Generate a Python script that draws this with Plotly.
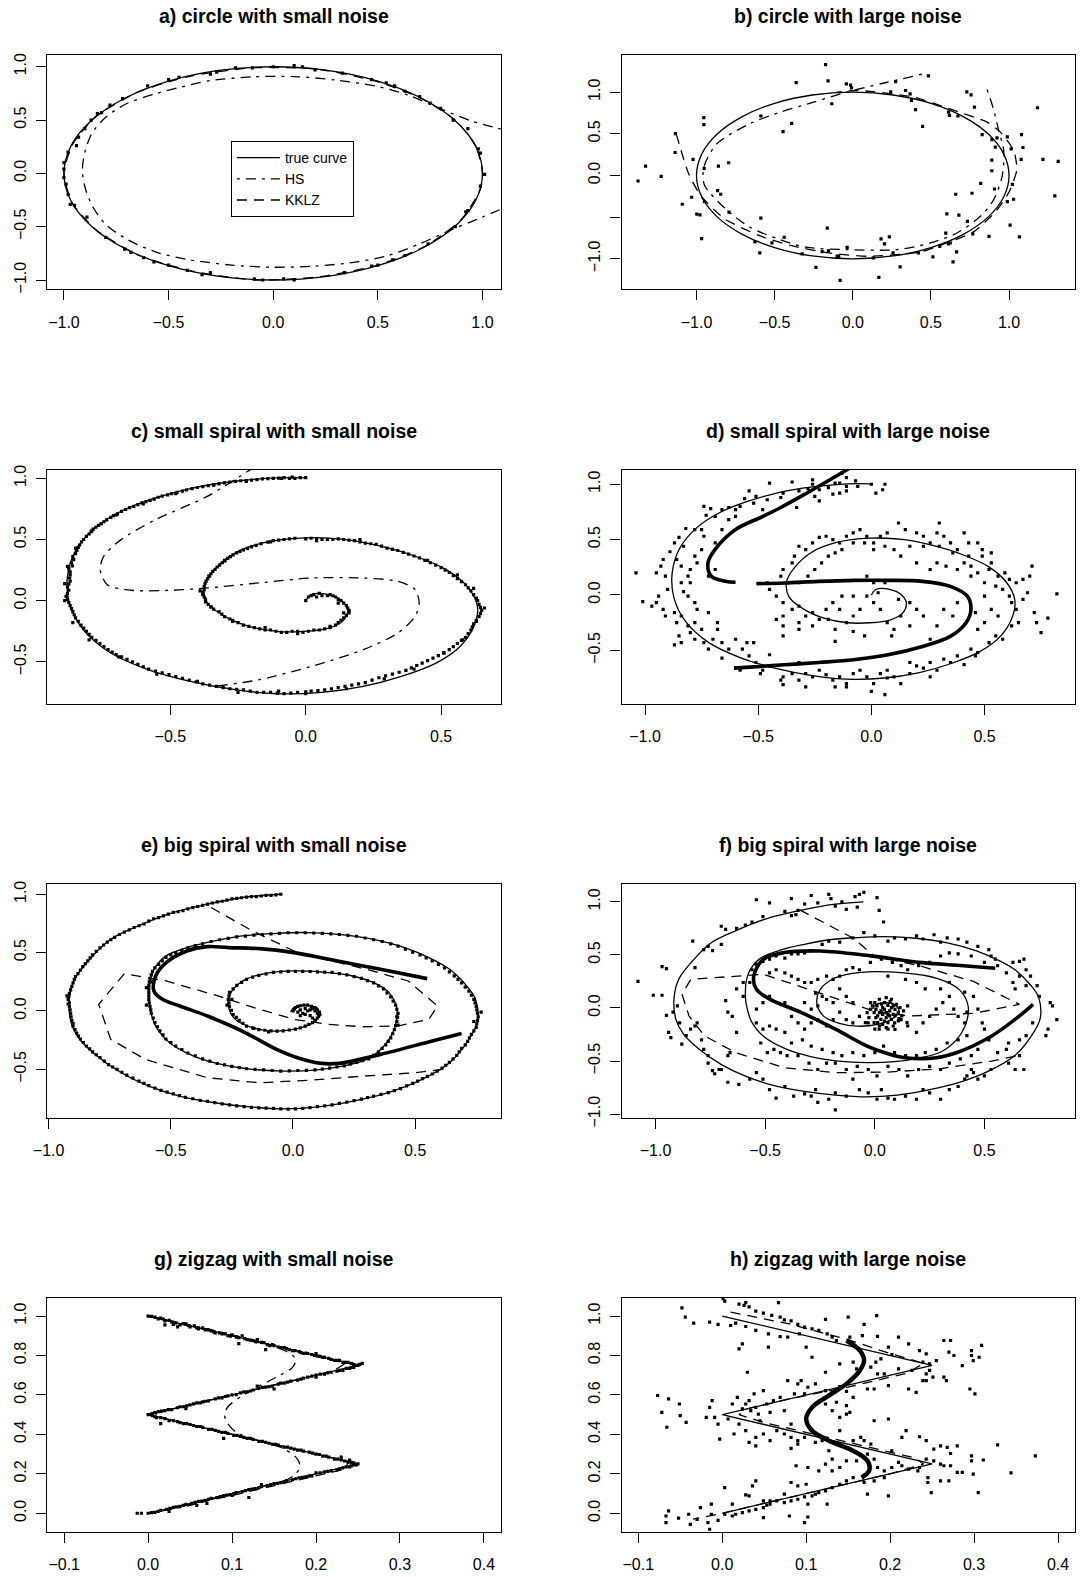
import plotly.graph_objects as go

W, H = 1085, 1577
FONT = "Liberation Sans, Arial, Helvetica, sans-serif"

# ======================= DATA =======================
TITLES = ["a) circle with small noise", "b) circle with large noise",
          "c) small spiral with small noise", "d) small spiral with large noise",
          "e) big spiral with small noise", "f) big spiral with large noise",
          "g) zigzag with small noise", "h) zigzag with large noise"]
LEGEND_NAMES = ["true curve", "HS", "KKLZ"]

X_RANGES = [(-1.079, 1.087), (-1.48, 1.421), (-0.954, 0.72), (-1.104, 0.899),
            (-1.005, 0.85), (-1.155, 0.912), (-0.12, 0.42), (-0.12, 0.42)]
Y_RANGES = [(-1.087, 1.11), (-1.366, 1.446), (-0.843, 1.072), (-0.983, 1.133),
            (-0.915, 1.092), (-1.035, 1.173), (-0.094, 1.094), (-0.094, 1.094)]
X_TICKS = [[-1.0, -0.5, 0.0, 0.5, 1.0], [-1.0, -0.5, 0.0, 0.5, 1.0], [-0.5, 0.0, 0.5],
           [-1.0, -0.5, 0.0, 0.5], [-1.0, -0.5, 0.0, 0.5], [-1.0, -0.5, 0.0, 0.5],
           [-0.1, 0.0, 0.1, 0.2, 0.3, 0.4], [-0.1, 0.0, 0.1, 0.2, 0.3, 0.4]]
Y_TICKS = [[-1.0, -0.5, 0.0, 0.5, 1.0], [-1.0, -0.5, 0.0, 0.5, 1.0], [-0.5, 0.0, 0.5, 1.0],
           [-0.5, 0.0, 0.5, 1.0], [-0.5, 0.0, 0.5, 1.0], [-1.0, -0.5, 0.0, 0.5, 1.0],
           [0.0, 0.2, 0.4, 0.6, 0.8, 1.0], [0.0, 0.2, 0.4, 0.6, 0.8, 1.0]]
Y_UNLABELLED = [[], [-0.5], [], [], [], [], [], []]

CIRCLE = [(1.0, 0.0), (0.966, 0.259), (0.866, 0.5), (0.707, 0.707), (0.5, 0.866), (0.259, 0.966),
          (0.0, 1.0), (-0.259, 0.966), (-0.5, 0.866), (-0.707, 0.707), (-0.866, 0.5), (-0.966, 0.259),
          (-1.0, 0.0), (-0.966, -0.259), (-0.866, -0.5), (-0.707, -0.707), (-0.5, -0.866), (-0.259, -0.966),
          (0.0, -1.0), (0.259, -0.966), (0.5, -0.866), (0.707, -0.707), (0.866, -0.5), (0.966, -0.259), (1.0, 0.0)]

SMALL_SPIRAL = [(0.0, 0.0), (0.02, 0.049), (0.085, 0.049), (0.129, 0.008), (0.155, -0.074), (0.136, -0.169),
                (0.085, -0.224), (-0.005, -0.251), (-0.107, -0.251), (-0.209, -0.21), (-0.299, -0.128),
                (-0.363, -0.019), (-0.375, 0.117), (-0.337, 0.254), (-0.26, 0.39), (-0.158, 0.472),
                (-0.005, 0.513), (0.148, 0.499), (0.276, 0.445), (0.404, 0.363), (0.519, 0.254),
                (0.596, 0.117), (0.634, -0.046), (0.621, -0.21), (0.57, -0.374), (0.481, -0.51),
                (0.353, -0.619), (0.212, -0.701), (0.059, -0.75), (-0.107, -0.761), (-0.26, -0.728),
                (-0.426, -0.66), (-0.58, -0.565), (-0.72, -0.428), (-0.822, -0.237), (-0.873, -0.019),
                (-0.88, 0.199), (-0.848, 0.417), (-0.771, 0.608), (-0.669, 0.745), (-0.554, 0.84),
                (-0.414, 0.922), (-0.26, 0.976), (-0.107, 1.004), (0.0, 1.004)]

BIG_SPIRAL = [(-0.052, 1.0), (-0.208, 0.972), (-0.35, 0.915), (-0.491, 0.843), (-0.633, 0.729), (-0.746, 0.614),
              (-0.831, 0.443), (-0.894, 0.271), (-0.915, 0.1), (-0.908, -0.1), (-0.873, -0.243), (-0.802, -0.386),
              (-0.703, -0.529), (-0.59, -0.643), (-0.463, -0.729), (-0.321, -0.786), (-0.18, -0.821),
              (-0.038, -0.838), (0.103, -0.821), (0.245, -0.772), (0.386, -0.701), (0.528, -0.586),
              (0.641, -0.443), (0.711, -0.272), (0.754, -0.1), (0.747, 0.1), (0.711, 0.214), (0.641, 0.357),
              (0.556, 0.457), (0.457, 0.543), (0.33, 0.614), (0.188, 0.657), (0.047, 0.672), (-0.081, 0.663),
              (-0.208, 0.643), (-0.321, 0.6), (-0.434, 0.543), (-0.519, 0.472), (-0.569, 0.357), (-0.587, 0.243),
              (-0.59, 0.14), (-0.587, 0.043), (-0.562, -0.129), (-0.505, -0.272), (-0.406, -0.386), (-0.293, -0.458),
              (-0.166, -0.5), (-0.038, -0.515), (0.089, -0.506), (0.202, -0.472), (0.301, -0.415), (0.372, -0.3),
              (0.414, -0.157), (0.426, 0.014), (0.393, 0.157), (0.33, 0.243), (0.23, 0.306), (0.117, 0.334),
              (0.004, 0.343), (-0.109, 0.323), (-0.194, 0.271), (-0.25, 0.171), (-0.265, 0.057), (-0.236, -0.072),
              (-0.166, -0.143), (-0.081, -0.172), (0.018, -0.152), (0.082, -0.1), (0.11, -0.037), (0.092, 0.029),
              (0.047, 0.049), (0.004, 0.029), (-0.01, -0.009)]

ZIGZAG = [(0.0, 1.0), (0.25, 0.75), (0.0, 0.5), (0.25, 0.25), (0.0, 0.0)]

HS_A = [(1.09, 0.415), (0.95, 0.49), (0.8, 0.605), (0.65, 0.73), (0.5, 0.815), (0.3, 0.875), (0.1, 0.908),
        (-0.1, 0.905), (-0.3, 0.87), (-0.45, 0.805), (-0.557, 0.75), (-0.7, 0.655), (-0.796, 0.533),
        (-0.865, 0.38), (-0.9, 0.2), (-0.912, 0.02), (-0.895, -0.16), (-0.86, -0.32), (-0.8, -0.48),
        (-0.7, -0.617), (-0.557, -0.74), (-0.4, -0.81), (-0.2, -0.86), (0.0, -0.88), (0.2, -0.87),
        (0.4, -0.83), (0.55, -0.77), (0.7, -0.66), (0.85, -0.53), (0.95, -0.45), (1.09, -0.335)]
KKLZ_A = [(1.0, 0.0), (0.97, 0.25), (0.87, 0.5), (0.7, 0.71), (0.48, 0.87), (0.2, 0.98), (-0.1, 0.99),
          (-0.4, 0.91), (-0.65, 0.76), (-0.85, 0.53), (-0.96, 0.27), (-1.0, 0.0), (-0.96, -0.28),
          (-0.84, -0.54), (-0.64, -0.77), (-0.38, -0.92), (-0.08, -1.0), (0.22, -0.97), (0.5, -0.86),
          (0.73, -0.68), (0.9, -0.43), (0.99, -0.15), (1.0, 0.0)]
PTS_A = [(0.10, 1.01), (0.14, 1.0), (0.2, 0.97), (0.47, 0.88), (0.54, 0.85), (0.58, 0.82), (0.70, 0.72),
         (0.75, 0.66), (0.8, 0.61), (0.86, 0.5), (0.93, 0.42), (0.98, 0.23), (0.99, 0.19), (1.01, -0.01),
         (0.99, -0.12), (0.93, -0.35), (0.92, -0.36), (0.87, -0.5), (0.74, -0.66), (0.63, -0.77),
         (0.57, -0.81), (0.5, -0.86), (0.47, -0.87), (0.34, -0.93), (0.1, -1.0), (0.05, -0.99),
         (-0.05, -1.0), (-0.09, -0.99), (-0.3, -0.93), (-0.34, -0.95), (-0.41, -0.91), (-0.5, -0.86),
         (-0.57, -0.83), (-0.62, -0.79), (-0.68, -0.74), (-0.71, -0.71), (-0.8, -0.6), (-0.89, -0.41),
         (-0.95, -0.3), (-0.97, -0.29), (-0.98, -0.2), (-0.99, -0.1), (-1.0, -0.04), (-1.0, 0.04),
         (-1.0, 0.1), (-0.98, 0.2), (-0.94, 0.26), (-0.93, 0.34), (-0.9, 0.42), (-0.87, 0.5), (-0.84, 0.56),
         (-0.82, 0.57), (-0.78, 0.64), (-0.72, 0.7), (-0.6, 0.82), (-0.5, 0.88), (-0.45, 0.9), (-0.3, 0.93),
         (-0.27, 0.95), (-0.18, 0.99), (-0.1, 0.99), (0.0, 1.0), (0.33, 0.94), (0.63, 0.77)]

HS_B = [(0.86, 1.03), (0.90, 0.80), (0.934, 0.54), (0.966, 0.30), (0.956, -0.01), (0.902, -0.29),
        (0.817, -0.49), (0.667, -0.69), (0.496, -0.81), (0.283, -0.89), (-0.04, -0.89), (-0.3, -0.86),
        (-0.465, -0.77), (-0.66, -0.62), (-0.82, -0.39), (-0.95, -0.11), (-0.953, 0.1), (-0.87, 0.38),
        (-0.66, 0.62), (-0.465, 0.76), (-0.25, 0.88), (-0.04, 1.0), (0.2, 1.11), (0.454, 1.22)]
KKLZ_B = [(-1.13, 0.50), (-1.05, 0.02), (-0.97, -0.25), (-0.82, -0.52), (-0.6, -0.72), (-0.4, -0.84),
          (-0.15, -0.93), (0.1, -0.97), (0.43, -0.92), (0.6, -0.81), (0.77, -0.68), (0.92, -0.42),
          (1.0, -0.2), (1.05, 0.07), (1.03, 0.3), (0.945, 0.52), (0.86, 0.64), (0.65, 0.78), (0.39, 0.94),
          (0.03, 1.02), (-0.1, 1.0)]
PTS_B = [(-0.174, 1.33), (-0.158, 1.135), (-0.362, 1.115), (-0.041, 1.10), (-0.014, 1.084), (-0.008, 1.052),
         (0.484, 1.195), (0.274, 1.127), (0.243, 1.004), (0.338, 1.02), (0.367, 0.98), (0.376, 0.90),
         (0.402, 0.79), (-0.134, 0.861), (-0.953, 0.694), (-0.953, 0.61), (-0.588, 0.714), (-0.391, 0.626),
         (-0.446, 0.527), (0.447, 0.59), (0.73, 1.004), (0.757, 0.968), (0.613, 0.761), (0.619, 0.722),
         (0.673, 0.714), (0.779, 0.821), (1.182, 0.813), (-1.135, 0.503), (-1.137, 0.276), (-1.326, 0.113),
         (-1.226, -0.010), (-1.374, -0.066), (-1.022, 0.193), (-0.86, 0.113), (-0.951, 0.085), (-0.794, 0.153),
         (0.828, 0.491), (0.89, 0.431), (0.923, 0.451), (0.989, 0.463), (1.08, 0.491), (1.014, 0.32),
         (1.089, 0.336), (0.912, 0.34), (0.89, 0.185), (0.89, 0.057), (1.078, 0.193), (1.217, 0.193),
         (1.315, 0.169), (0.819, -0.094), (0.907, -0.162), (1.022, -0.106), (0.659, -0.225), (0.763, -0.213),
         (1.293, -0.245), (1.029, -0.285), (0.989, -0.313), (-0.865, -0.182), (-0.845, -0.225),
         (-1.031, -0.261), (-1.091, -0.345), (-0.949, -0.313), (-0.998, -0.464), (-0.978, -0.472),
         (-0.792, -0.44), (-0.588, -0.512), (-0.163, -0.631), (0.602, -0.46), (0.679, -0.476),
         (0.734, -0.551), (1.007, -0.595), (1.067, -0.738), (0.872, -0.73), (0.768, -0.702), (0.595, -0.691),
         (-0.967, -0.758), (-0.626, -0.798), (-0.595, -0.929), (-0.517, -0.81), (-0.439, -0.742),
         (-0.324, -0.941), (-0.196, -0.913), (-0.156, -0.905), (-0.10, -0.969), (-0.036, -0.862),
         (0.181, -0.762), (0.234, -0.738), (0.203, -0.822), (0.613, -0.822), (0.624, -0.81), (0.664, -0.917),
         (0.557, -0.85), (0.513, -0.977), (0.642, -1.037), (-0.236, -1.104), (-0.081, -1.26), (0.167, -1.224),
         (0.303, -1.096), (0.132, -0.989), (0.258, -0.929), (0.42, -0.929), (-0.09, -0.97)]

HS_C = [(-0.16, 1.13), (-0.203, 1.072), (-0.362, 0.854), (-0.554, 0.663), (-0.682, 0.499), (-0.746, 0.363),
        (-0.759, 0.254), (-0.733, 0.131), (-0.644, 0.085), (-0.49, 0.085), (-0.362, 0.104), (-0.171, 0.145),
        (0.021, 0.185), (0.212, 0.185), (0.34, 0.158), (0.404, 0.09), (0.419, -0.019), (0.404, -0.128),
        (0.34, -0.265), (0.212, -0.401), (0.021, -0.537), (-0.171, -0.646), (-0.337, -0.701)]
PTS_C = [(0.0, 0.0), (0.01, 0.03), (0.03, 0.05), (0.06, 0.04), (0.09, 0.05), (0.11, 0.03), (0.13, 0.0),
         (0.15, -0.04), (0.16, -0.08), (0.15, -0.12), (0.13, -0.16), (0.11, -0.2), (0.07, -0.23), (0.03, -0.24),
         (-0.01, -0.26), (-0.05, -0.25), (-0.09, -0.26), (-0.13, -0.24), (-0.17, -0.23), (-0.21, -0.21),
         (-0.25, -0.18), (-0.28, -0.15), (-0.31, -0.11), (-0.34, -0.07), (-0.36, -0.03), (-0.37, 0.01),
         (-0.38, 0.05), (-0.375, 0.09), (-0.372, 0.14), (-0.362, 0.18), (-0.35, 0.22), (-0.335, 0.255),
         (-0.318, 0.29), (-0.298, 0.325), (-0.278, 0.36), (-0.255, 0.39), (-0.23, 0.415), (-0.2, 0.44),
         (-0.165, 0.465), (-0.12, 0.49), (-0.08, 0.5), (-0.04, 0.51),
         (0.02, 0.51), (0.06, 0.5), (0.1, 0.5), (0.14, 0.5), (0.18, 0.49), (0.22, 0.47), (0.26, 0.46),
         (0.3, 0.43), (0.34, 0.41), (0.38, 0.38), (0.42, 0.35), (0.46, 0.31), (0.5, 0.27), (0.53, 0.23),
         (0.56, 0.18), (0.59, 0.13), (0.61, 0.08), (0.63, 0.02), (0.64, -0.03), (0.65, -0.08), (0.64, -0.13),
         (0.62, -0.19), (0.61, -0.24), (0.59, -0.3), (0.56, -0.35), (0.53, -0.4), (0.49, -0.45), (0.45, -0.49),
         (0.41, -0.53), (0.37, -0.57), (0.32, -0.6), (0.27, -0.63), (0.22, -0.67), (0.17, -0.69), (0.12, -0.71),
         (0.07, -0.73), (0.02, -0.74), (-0.03, -0.75), (-0.08, -0.76), (-0.13, -0.75), (-0.18, -0.75),
         (-0.23, -0.73), (-0.28, -0.72), (-0.33, -0.7), (-0.38, -0.68), (-0.43, -0.65), (-0.48, -0.62),
         (-0.53, -0.59), (-0.58, -0.56), (-0.62, -0.52), (-0.66, -0.48), (-0.7, -0.44), (-0.73, -0.4),
         (-0.76, -0.35), (-0.79, -0.3), (-0.81, -0.25), (-0.83, -0.2), (-0.85, -0.14), (-0.86, -0.09),
         (-0.87, -0.04), (-0.88, 0.01), (-0.88, 0.06), (-0.88, 0.11), (-0.87, 0.16),
         (-0.87, 0.21), (-0.875, 0.26), (-0.865, 0.31), (-0.86, 0.36), (-0.845, 0.41), (-0.835, 0.455),
         (-0.82, 0.5), (-0.8, 0.545), (-0.785, 0.585), (-0.765, 0.615), (-0.745, 0.645), (-0.72, 0.68),
         (-0.695, 0.71), (-0.665, 0.745), (-0.635, 0.77), (-0.605, 0.8), (-0.575, 0.82), (-0.545, 0.845),
         (-0.51, 0.865), (-0.475, 0.885), (-0.44, 0.905), (-0.4, 0.925), (-0.36, 0.94), (-0.32, 0.955),
         (-0.28, 0.97), (-0.24, 0.98), (-0.2, 0.985), (-0.16, 0.995), (-0.12, 1.0), (-0.08, 1.005),
         (-0.04, 1.0), (0.0, 1.005),
         (0.04, 0.03), (0.12, -0.02), (0.14, -0.1), (0.09, -0.21), (-0.03, -0.27), (-0.15, -0.22), (-0.27, -0.17),
         (-0.35, -0.05), (-0.39, 0.08), (-0.355, 0.2), (-0.3, 0.33), (-0.13, 0.48), (0.04, 0.49), (0.2, 0.5),
         (0.32, 0.42), (0.45, 0.33), (0.56, 0.21), (0.62, 0.1), (0.66, -0.06), (0.63, -0.17), (0.58, -0.32),
         (0.51, -0.43), (0.4, -0.56), (0.29, -0.64), (0.15, -0.72), (0.0, -0.76), (-0.1, -0.74), (-0.25, -0.75),
         (-0.4, -0.66), (-0.55, -0.6), (-0.69, -0.46), (-0.8, -0.32), (-0.86, -0.18), (-0.89, 0.0),
         (-0.89, 0.14), (-0.88, 0.28), (-0.85, 0.43), (-0.79, 0.57), (-0.7, 0.7), (-0.6, 0.79), (-0.48, 0.875),
         (-0.34, 0.945), (-0.22, 0.975), (-0.09, 1.0), (-0.05, 1.01)]
PTS_C_MORE = [(0.02, 0.04), (0.05, 0.06), (0.08, 0.04), (0.1, 0.04), (0.12, 0.01), (0.14, -0.02), (0.155, -0.06),
              (0.16, -0.1), (0.14, -0.14), (0.12, -0.18), (0.09, -0.22), (0.05, -0.24), (0.01, -0.25),
              (-0.03, -0.25), (-0.07, -0.26), (-0.11, -0.25), (-0.15, -0.24), (-0.19, -0.22), (-0.23, -0.2),
              (-0.27, -0.16), (-0.3, -0.13), (-0.32, -0.09), (-0.35, -0.05), (-0.37, -0.01), (-0.375, 0.03),
              (-0.38, 0.07), (-0.375, 0.115), (-0.368, 0.16), (-0.358, 0.2), (-0.343, 0.24), (-0.327, 0.275),
              (-0.308, 0.31), (-0.288, 0.345), (-0.268, 0.375), (-0.243, 0.402), (-0.215, 0.428),
              (-0.183, 0.452), (-0.14, 0.478), (-0.1, 0.495), (-0.06, 0.505),
              (0.0, 0.505), (0.04, 0.505), (0.08, 0.5), (0.12, 0.505), (0.16, 0.495), (0.2, 0.48),
              (0.24, 0.465), (0.28, 0.445), (0.32, 0.42), (0.36, 0.395), (0.4, 0.365), (0.44, 0.33), (0.48, 0.29),
              (0.515, 0.25), (0.545, 0.205), (0.575, 0.155), (0.6, 0.105), (0.62, 0.05), (0.635, 0.0),
              (0.645, -0.055), (0.645, -0.105), (0.63, -0.16), (0.615, -0.215), (0.6, -0.27), (0.575, -0.325),
              (0.545, -0.375), (0.51, -0.425), (0.47, -0.47), (0.43, -0.51), (0.39, -0.55), (0.345, -0.585),
              (0.295, -0.615), (0.245, -0.65), (0.195, -0.68), (0.145, -0.7), (0.095, -0.72), (0.045, -0.735),
              (0.0, -0.745), (-0.055, -0.755), (-0.105, -0.755), (-0.155, -0.75), (-0.205, -0.74),
              (-0.255, -0.725), (-0.305, -0.71), (-0.355, -0.69), (-0.405, -0.665), (-0.455, -0.635),
              (-0.505, -0.605), (-0.555, -0.575), (-0.6, -0.54), (-0.64, -0.5), (-0.68, -0.46), (-0.715, -0.42),
              (-0.745, -0.375), (-0.775, -0.325), (-0.8, -0.275), (-0.82, -0.225), (-0.84, -0.17),
              (-0.855, -0.115), (-0.865, -0.065), (-0.875, -0.015), (-0.885, 0.035), (-0.875, 0.085),
              (-0.875, 0.135), (-0.872, 0.185), (-0.87, 0.235), (-0.862, 0.285), (-0.857, 0.335),
              (-0.85, 0.385), (-0.84, 0.435), (-0.828, 0.48), (-0.81, 0.525), (-0.792, 0.565), (-0.775, 0.6),
              (-0.755, 0.63), (-0.735, 0.66), (-0.71, 0.695), (-0.68, 0.73), (-0.65, 0.76), (-0.62, 0.785),
              (-0.59, 0.81), (-0.56, 0.83), (-0.53, 0.855), (-0.495, 0.875), (-0.455, 0.895), (-0.42, 0.915),
              (-0.38, 0.932), (-0.34, 0.948), (-0.3, 0.962), (-0.26, 0.975), (-0.22, 0.982), (-0.18, 0.99),
              (-0.14, 0.997), (-0.1, 1.002), (-0.06, 1.0), (-0.02, 1.005)]

HS_D = [(-0.10, 1.14), (-0.2, 1.02), (-0.309, 0.892), (-0.4, 0.79), (-0.477, 0.711), (-0.6, 0.591),
        (-0.691, 0.41), (-0.722, 0.289), (-0.707, 0.169), (-0.645, 0.124), (-0.6, 0.115), (None, None),
        (-0.508, 0.102), (-0.385, 0.108), (-0.232, 0.123), (-0.079, 0.132), (0.074, 0.132), (0.226, 0.123),
        (0.349, 0.078), (0.425, -0.013), (0.44, -0.133), (0.418, -0.254), (0.349, -0.374), (0.226, -0.465),
        (0.074, -0.54), (-0.079, -0.585), (-0.232, -0.61), (-0.385, -0.631), (-0.538, -0.652), (-0.607, -0.661)]
PTS_D = [(-0.45, 1.01), (-0.35, 1.02), (-0.26, 1.04), (-0.28, 0.96), (-0.23, 0.95), (-0.19, 0.97), (-0.16, 1.01),
         (-0.11, 1.06), (-0.07, 1.03), (-0.11, 0.98), (-0.11, 0.94), (-0.14, 0.92), (-0.23, 0.85), (-0.25, 0.89),
         (-0.32, 0.94), (-0.33, 0.79), (-0.39, 0.92), (-0.40, 0.88), (-0.46, 0.86), (-0.51, 0.89), (-0.54, 0.94),
         (-0.56, 0.87), (-0.58, 0.80), (-0.60, 0.77), (-0.63, 0.79), (-0.66, 0.77), (-0.71, 0.78), (-0.74, 0.80),
         (-0.73, 0.72), (-0.69, 0.71), (-0.60, 0.71), (-0.63, 0.68), (-0.52, 0.83), (-0.48, 0.77), (-0.51, 0.68),
         (0.06, 1.0), (0.05, 0.95), (0.02, 0.92), (0.0, 1.0), (-0.06, 0.98), (-0.17, 0.91), (-0.13, 1.10),
         (-0.14, 1.01), (-0.26, 1.0),
         (-0.82, 0.60), (-0.78, 0.59), (-0.85, 0.52), (-0.83, 0.44), (-0.87, 0.47), (-0.89, 0.39), (-0.92, 0.32),
         (-0.93, 0.26), (-0.95, 0.20), (-0.91, 0.17), (-0.90, 0.05), (-0.94, -0.01), (-0.95, -0.07),
         (-0.97, -0.10), (-1.01, -0.06), (-1.04, 0.20), (-0.92, -0.13), (-0.91, -0.19), (-0.87, -0.16),
         (-0.86, -0.25), (-0.84, -0.19), (-0.81, -0.28), (-0.80, -0.34), (-0.78, -0.40), (-0.75, -0.31),
         (-0.74, -0.43), (-0.72, -0.49), (-0.87, -0.45), (-0.84, -0.43), (-0.85, -0.37), (-0.78, -0.25),
         (-0.77, -0.13), (-0.78, -0.07), (-0.81, -0.01), (-0.83, 0.03), (-0.84, 0.11), (-0.81, 0.17),
         (-0.80, 0.23), (-0.77, 0.29), (-0.78, 0.35), (-0.75, 0.41), (-0.80, 0.11), (-0.84, 0.26), (-0.86, 0.32),
         (-0.72, 0.17), (-0.69, 0.23), (-0.74, 0.53), (-0.75, 0.59), (-0.69, 0.47), (-0.66, 0.59), (-0.72, -0.16),
         (-0.68, -0.25), (-0.68, -0.31), (-0.70, -0.40), (-0.66, -0.43), (-0.63, -0.49),
         (-0.60, -0.40), (-0.57, -0.49), (-0.54, -0.55), (-0.51, -0.61), (-0.48, -0.68), (-0.45, -0.64),
         (-0.40, -0.77), (-0.39, -0.74), (-0.35, -0.71), (-0.32, -0.77), (-0.29, -0.71), (-0.26, -0.74),
         (-0.23, -0.68), (-0.20, -0.72), (-0.17, -0.77), (-0.14, -0.74), (-0.11, -0.80), (-0.08, -0.71),
         (-0.05, -0.68), (-0.02, -0.74), (0.01, -0.80), (0.04, -0.71), (0.07, -0.68), (0.10, -0.74),
         (0.13, -0.80), (0.17, -0.71), (0.20, -0.64), (0.23, -0.66), (0.26, -0.61), (0.29, -0.68), (0.32, -0.58),
         (0.35, -0.61), (0.38, -0.55), (0.41, -0.63), (0.44, -0.49), (0.47, -0.52), (0.52, -0.43), (0.55, -0.37),
         (0.58, -0.40), (0.46, -0.55), (0.0, -0.87), (0.06, -0.90), (-0.16, -0.83), (-0.11, -0.83),
         (-0.29, -0.83), (-0.39, -0.81), (-0.32, -0.61), (-0.22, -0.61), (-0.45, -0.54), (-0.52, -0.43),
         (-0.55, -0.43), (-0.66, -0.57), (-0.58, -0.68), (-0.49, -0.71), (0.26, -0.74), (0.07, -0.75),
         (0.17, -0.61),
         (0.41, 0.56), (0.47, 0.47), (0.49, 0.35), (0.53, 0.29), (0.52, 0.23), (0.56, 0.17), (0.59, 0.20),
         (0.61, 0.14), (0.64, 0.11), (0.67, 0.14), (0.70, 0.17), (0.71, 0.26), (0.58, 0.05), (0.61, -0.01),
         (0.62, -0.07), (0.64, -0.13), (0.67, -0.04), (0.69, 0.02), (0.72, -0.16), (0.73, -0.25), (0.75, -0.34),
         (0.78, -0.21), (0.82, 0.01), (0.65, -0.25), (0.62, -0.28), (0.56, -0.19), (0.53, -0.13), (0.50, -0.25),
         (0.47, -0.31), (0.46, -0.16), (0.50, -0.01), (0.55, 0.08), (0.50, 0.11), (0.47, 0.20), (0.44, 0.26),
         (0.43, 0.35), (0.38, 0.41), (0.35, 0.47), (0.32, 0.53), (0.29, 0.56), (0.26, 0.47), (0.23, 0.53),
         (0.20, 0.56), (0.15, 0.59), (0.12, 0.65), (0.07, 0.56), (0.04, 0.53), (0.01, 0.47), (-0.02, 0.53),
         (-0.05, 0.59), (-0.08, 0.56), (-0.11, 0.53), (-0.14, 0.47), (-0.17, 0.50), (-0.20, 0.53), (-0.23, 0.52),
         (-0.26, 0.47), (-0.29, 0.41), (-0.32, 0.44), (-0.34, 0.35), (-0.35, 0.29), (-0.39, 0.23), (-0.40, 0.17),
         (-0.37, 0.11), (-0.32, 0.11), (-0.28, 0.17), (-0.25, 0.23), (-0.22, 0.29), (-0.19, 0.35), (-0.16, 0.38),
         (-0.13, 0.41), (-0.08, 0.47), (-0.03, 0.47), (0.01, 0.41), (0.06, 0.44), (0.10, 0.41), (0.17, 0.44),
         (0.23, 0.44), (0.30, 0.44), (0.36, 0.38), (0.41, 0.29), (0.44, 0.17), (0.38, 0.23), (0.33, 0.26),
         (0.29, 0.29), (0.26, 0.23), (0.20, 0.29), (0.13, 0.35), (0.30, 0.65), (0.43, 0.47), (0.49, 0.41),
         (0.53, 0.38),
         (-0.46, 0.11), (-0.45, 0.05), (-0.42, -0.01), (-0.39, -0.07), (-0.35, -0.13), (-0.32, -0.10),
         (-0.29, -0.19), (-0.26, -0.16), (-0.23, -0.22), (-0.20, -0.13), (-0.17, -0.07), (-0.14, -0.13),
         (-0.11, -0.25), (-0.08, -0.19), (-0.05, -0.13), (-0.02, -0.01), (0.01, -0.07), (0.03, 0.02),
         (0.04, -0.13), (0.07, -0.25), (0.10, -0.31), (0.13, -0.19), (0.17, -0.07), (0.20, -0.13), (0.23, -0.19),
         (0.29, -0.28), (0.32, -0.13), (0.36, -0.19), (0.38, -0.07), (0.12, -0.04), (0.06, 0.11), (0.01, 0.11),
         (-0.02, 0.17), (-0.08, -0.01), (-0.13, -0.01), (-0.19, -0.22), (-0.26, -0.28), (-0.32, -0.25),
         (-0.39, -0.19), (-0.42, -0.22), (-0.39, -0.28), (-0.32, -0.31), (-0.16, -0.31), (-0.08, -0.33),
         (-0.03, -0.37), (-0.16, -0.42), (0.09, -0.37), (0.17, -0.28), (0.26, -0.40), (-0.39, -0.37)]

HS_E = [(0.549, 0.277), (0.358, 0.357), (0.146, 0.443), (0.004, 0.5), (-0.137, 0.534), (-0.265, 0.543),
        (-0.35, 0.551), (-0.434, 0.514), (-0.519, 0.414), (-0.562, 0.3), (-0.569, 0.171), (-0.534, 0.1),
        (-0.463, 0.043), (-0.35, -0.043), (-0.208, -0.172), (-0.067, -0.329), (0.018, -0.4), (0.117, -0.449),
        (0.188, -0.449), (0.358, -0.372), (0.57, -0.257), (0.69, -0.192)]
KKLZ_E = [(-0.335, 0.886), (-0.166, 0.686), (0.004, 0.514), (0.131, 0.443), (0.301, 0.357), (0.471, 0.257),
          (0.591, 0.043), (0.556, -0.072), (0.428, -0.129), (0.287, -0.135), (0.146, -0.115), (0.004, -0.072),
          (-0.137, 0.014), (-0.307, 0.129), (-0.519, 0.257), (-0.69, 0.32), (-0.795, 0.057), (-0.746, -0.243),
          (-0.604, -0.415), (-0.35, -0.572), (-0.137, -0.615), (0.075, -0.592), (0.287, -0.558),
          (0.499, -0.529), (0.613, -0.5)]
PTS_E = [(-0.05, 1.0), (-0.09, 0.99), (-0.13, 0.985), (-0.17, 0.98), (-0.21, 0.97), (-0.25, 0.96), (-0.29, 0.94),
         (-0.33, 0.925), (-0.37, 0.905), (-0.41, 0.885), (-0.45, 0.86), (-0.49, 0.845), (-0.53, 0.815),
         (-0.57, 0.79), (-0.61, 0.745), (-0.65, 0.715), (-0.69, 0.675), (-0.73, 0.63), (-0.76, 0.59),
         (-0.79, 0.54), (-0.82, 0.48), (-0.84, 0.43), (-0.86, 0.38), (-0.88, 0.32), (-0.895, 0.27),
         (-0.905, 0.21), (-0.915, 0.15), (-0.92, 0.1), (-0.915, 0.04), (-0.91, -0.02), (-0.905, -0.08),
         (-0.9, -0.13), (-0.885, -0.19), (-0.87, -0.24), (-0.845, -0.3), (-0.82, -0.35), (-0.79, -0.4),
         (-0.755, -0.46), (-0.72, -0.5), (-0.68, -0.55), (-0.63, -0.6), (-0.59, -0.64), (-0.54, -0.68),
         (-0.49, -0.71), (-0.44, -0.74), (-0.38, -0.765), (-0.32, -0.785), (-0.26, -0.805), (-0.2, -0.82),
         (-0.14, -0.83), (-0.08, -0.835), (-0.02, -0.84), (0.04, -0.835), (0.1, -0.82), (0.16, -0.805),
         (0.22, -0.78), (0.28, -0.755), (0.33, -0.73), (0.39, -0.7), (0.44, -0.665), (0.49, -0.62),
         (0.53, -0.58), (0.57, -0.54), (0.61, -0.49), (0.64, -0.44), (0.67, -0.38), (0.69, -0.32),
         (0.715, -0.26), (0.73, -0.2), (0.75, -0.14), (0.755, -0.08), (0.755, -0.02), (0.75, 0.04),
         (0.74, 0.1), (0.72, 0.17), (0.69, 0.24), (0.66, 0.3), (0.62, 0.37), (0.57, 0.43), (0.52, 0.48),
         (0.46, 0.53), (0.4, 0.575), (0.33, 0.61), (0.26, 0.64), (0.19, 0.655), (0.12, 0.665), (0.05, 0.67),
         (-0.02, 0.67), (-0.09, 0.66), (-0.16, 0.65), (-0.23, 0.635), (-0.3, 0.61), (-0.37, 0.575),
         (-0.43, 0.54), (-0.48, 0.5), (-0.52, 0.46), (-0.55, 0.4), (-0.575, 0.34), (-0.585, 0.28),
         (-0.59, 0.22), (-0.59, 0.16), (-0.59, 0.1), (-0.585, 0.04), (-0.58, -0.02), (-0.565, -0.1),
         (-0.545, -0.17), (-0.52, -0.24), (-0.48, -0.3), (-0.43, -0.36), (-0.37, -0.41), (-0.31, -0.45),
         (-0.25, -0.475), (-0.19, -0.495), (-0.12, -0.505), (-0.05, -0.515), (0.02, -0.51), (0.09, -0.505),
         (0.15, -0.49), (0.21, -0.47), (0.26, -0.44), (0.31, -0.41), (0.35, -0.35), (0.38, -0.29),
         (0.4, -0.23), (0.415, -0.16), (0.425, -0.09), (0.43, -0.02), (0.42, 0.05), (0.4, 0.12), (0.37, 0.19),
         (0.33, 0.24), (0.28, 0.28), (0.22, 0.31), (0.16, 0.33), (0.1, 0.335), (0.04, 0.34), (-0.02, 0.34),
         (-0.08, 0.33), (-0.14, 0.305), (-0.19, 0.27), (-0.23, 0.22), (-0.26, 0.16), (-0.265, 0.1),
         (-0.26, 0.04), (-0.245, -0.03), (-0.22, -0.08), (-0.19, -0.13), (-0.14, -0.16), (-0.09, -0.17),
         (-0.04, -0.17), (0.01, -0.155), (0.05, -0.13), (0.08, -0.1), (0.1, -0.06), (0.11, -0.03), (0.1, 0.01),
         (0.09, 0.03), (0.06, 0.05), (0.03, 0.045), (0.01, 0.03), (0.0, 0.0), (0.04, -0.02), (0.07, -0.04),
         (0.06, 0.0), (0.03, 0.01), (0.08, 0.02), (0.1, -0.02), (-0.92, 0.06), (-0.925, 0.13), (-0.6, 0.05),
         (-0.6, 0.2), (-0.58, 0.25), (0.43, -0.12), (0.425, -0.05), (0.77, -0.01), (0.74, -0.09),
         (-0.25, 0.1), (-0.27, 0.05), (-0.1, -0.18), (-0.16, -0.15), (0.09, -0.08)]
PTS_E_MORE = [(-0.07, 0.995), (-0.11, 0.99), (-0.15, 0.98), (-0.19, 0.975), (-0.23, 0.965), (-0.27, 0.95),
              (-0.31, 0.935), (-0.35, 0.915), (-0.39, 0.895), (-0.43, 0.875), (-0.47, 0.85), (-0.51, 0.83),
              (-0.55, 0.8), (-0.59, 0.77), (-0.63, 0.73), (-0.67, 0.695), (-0.71, 0.655), (-0.745, 0.61),
              (-0.775, 0.565), (-0.805, 0.51), (-0.83, 0.455), (-0.85, 0.405), (-0.87, 0.35), (-0.89, 0.295),
              (-0.9, 0.24), (-0.91, 0.18), (-0.918, 0.125), (-0.915, 0.07), (-0.912, 0.01), (-0.908, -0.05),
              (-0.9, -0.105), (-0.892, -0.16), (-0.878, -0.215), (-0.858, -0.27), (-0.832, -0.325),
              (-0.805, -0.375), (-0.772, -0.43), (-0.738, -0.48), (-0.7, -0.525), (-0.655, -0.575),
              (-0.61, -0.62), (-0.565, -0.66), (-0.515, -0.695), (-0.465, -0.725), (-0.41, -0.752),
              (-0.35, -0.775), (-0.29, -0.795), (-0.23, -0.812), (-0.17, -0.825), (-0.11, -0.832),
              (-0.05, -0.838), (0.01, -0.838), (0.07, -0.828), (0.13, -0.812), (0.19, -0.792), (0.25, -0.768),
              (0.305, -0.742), (0.36, -0.715), (0.415, -0.682), (0.465, -0.642), (0.51, -0.6), (0.55, -0.56),
              (0.59, -0.515), (0.625, -0.465), (0.655, -0.41), (0.68, -0.35), (0.705, -0.29), (0.722, -0.23),
              (0.74, -0.17), (0.752, -0.11), (0.758, -0.05), (0.752, 0.01), (0.745, 0.07), (0.73, 0.135),
              (0.705, 0.205), (0.675, 0.27), (0.64, 0.335), (0.595, 0.4), (0.545, 0.455), (0.49, 0.505),
              (0.43, 0.555), (0.365, 0.595), (0.295, 0.625), (0.225, 0.648), (0.155, 0.66), (0.085, 0.668),
              (0.015, 0.67), (-0.055, 0.665), (-0.125, 0.655), (-0.195, 0.642), (-0.265, 0.622), (-0.335, 0.595),
              (-0.4, 0.56), (-0.455, 0.52), (-0.5, 0.48), (-0.535, 0.43), (-0.565, 0.37), (-0.58, 0.31),
              (-0.588, 0.25), (-0.59, 0.19), (-0.59, 0.13), (-0.588, 0.07), (-0.582, 0.01), (-0.572, -0.06),
              (-0.555, -0.135), (-0.532, -0.205), (-0.5, -0.27), (-0.455, -0.33), (-0.4, -0.385), (-0.34, -0.43),
              (-0.28, -0.462), (-0.22, -0.485), (-0.155, -0.5), (-0.085, -0.51), (-0.015, -0.513), (0.055, -0.508),
              (0.12, -0.498), (0.18, -0.48), (0.235, -0.455), (0.285, -0.425), (0.33, -0.38), (0.365, -0.32),
              (0.39, -0.26), (0.408, -0.195), (0.42, -0.125), (0.428, -0.055), (0.425, 0.015), (0.41, 0.085),
              (0.385, 0.155), (0.35, 0.215), (0.305, 0.26), (0.25, 0.295), (0.19, 0.32), (0.13, 0.333),
              (0.07, 0.338), (0.01, 0.34), (-0.05, 0.335), (-0.11, 0.318), (-0.165, 0.29), (-0.21, 0.245),
              (-0.245, 0.19), (-0.262, 0.13), (-0.262, 0.07), (-0.252, 0.005), (-0.232, -0.055), (-0.205, -0.105),
              (-0.165, -0.145), (-0.115, -0.165), (-0.065, -0.172), (-0.015, -0.163), (0.03, -0.145),
              (0.065, -0.115), (0.09, -0.08), (0.105, -0.045), (0.108, -0.01), (0.095, 0.02), (0.075, 0.04),
              (0.045, 0.05), (0.02, 0.04), (0.005, 0.015), (0.02, -0.01), (0.05, -0.03), (0.08, -0.06),
              (0.09, 0.0), (0.05, 0.02), (0.03, -0.04), (0.07, 0.01)]

HS_F = [(0.549, 0.374), (0.375, 0.402), (0.218, 0.427), (-0.019, 0.491), (-0.248, 0.537), (-0.413, 0.522),
        (-0.508, 0.459), (-0.552, 0.301), (-0.54, 0.176), (-0.477, 0.081), (-0.334, -0.044), (-0.177, -0.202),
        (-0.035, -0.359), (0.06, -0.431), (0.139, -0.469), (0.281, -0.469), (0.375, -0.42), (0.533, -0.264),
        (0.659, -0.076), (0.722, 0.034)]
KKLZ_F = [(-0.342, 0.924), (-0.1, 0.66), (-0.003, 0.49), (0.2, 0.4), (0.45, 0.25), (0.659, 0.034),
          (0.454, -0.05), (0.155, -0.076), (-0.003, -0.03), (-0.256, 0.144), (-0.508, 0.317), (-0.839, 0.27),
          (-0.879, 0.129), (-0.847, -0.076), (-0.776, -0.264), (-0.634, -0.421), (-0.413, -0.563),
          (-0.177, -0.61), (0.06, -0.604), (0.296, -0.573), (0.533, -0.5), (0.644, -0.453)]
PTS_F = [(-0.54, 1.02), (-0.48, 0.99), (-0.38, 1.03), (-0.32, 0.98), (-0.29, 1.06), (-0.26, 0.99), (-0.21, 1.07),
         (-0.20, 1.03), (-0.15, 1.0), (-0.09, 1.05), (-0.07, 1.07), (-0.05, 1.09), (0.01, 1.04), (0.02, 0.92),
         (-0.13, 0.93), (-0.08, 0.95), (-0.18, 0.96), (-0.35, 0.92), (-0.38, 0.87), (-0.41, 0.91), (-0.36, 0.88),
         (-0.51, 0.86), (-0.56, 0.81), (-0.59, 0.78), (-0.63, 0.75), (-0.70, 0.77), (-0.68, 0.74), (-0.76, 0.58),
         (-0.78, 0.55), (-0.83, 0.63), (-0.82, 0.38), (-0.70, 0.60), (-0.74, 0.54), (-0.95, 0.37), (-0.97, 0.39),
         (-1.08, 0.25), (-1.01, 0.12), (-0.97, 0.12), (-0.95, -0.07), (-0.92, -0.04), (-0.90, 0.02),
         (-0.89, -0.14), (-0.94, -0.23), (-0.93, -0.28), (-0.88, -0.34), (-0.86, -0.26), (-0.84, -0.20),
         (-0.82, -0.17), (-0.81, -0.14), (-0.79, -0.30), (-0.78, -0.39), (-0.76, -0.45), (-0.76, -0.52),
         (-0.73, -0.62), (-0.74, -0.59), (-0.70, -0.58), (-0.67, -0.45), (-0.66, -0.42), (-0.63, -0.23),
         (-0.67, -0.04), (-0.65, -0.08), (-0.68, 0.07), (-0.60, 0.11), (-0.63, 0.18), (-0.60, 0.24),
         (-0.57, 0.24), (-0.56, 0.36), (-0.54, 0.41), (-0.51, 0.44), (-0.48, 0.46), (-0.45, 0.49), (-0.41, 0.47),
         (-0.38, 0.51), (-0.35, 0.51), (-0.32, 0.52), (-0.29, 0.54), (-0.24, 0.60), (-0.21, 0.63), (-0.16, 0.62),
         (-0.10, 0.66), (-0.05, 0.71), (0.0, 0.68), (0.04, 0.81), (0.06, 0.63), (0.09, 0.66), (0.14, 0.65),
         (0.19, 0.68), (0.22, 0.65), (0.27, 0.69), (0.30, 0.62), (0.33, 0.66), (0.38, 0.65), (0.42, 0.62),
         (0.47, 0.58), (0.52, 0.55), (0.53, 0.49), (0.55, 0.46), (0.50, 0.43), (0.44, 0.49), (0.38, 0.51),
         (0.34, 0.52), (0.30, 0.49), (0.25, 0.43), (0.20, 0.40), (0.15, 0.36), (0.12, 0.40), (0.08, 0.43),
         (0.03, 0.46), (-0.02, 0.43), (-0.07, 0.36), (-0.10, 0.38), (-0.13, 0.36), (-0.16, 0.30), (-0.19, 0.27),
         (-0.22, 0.30), (-0.26, 0.27), (-0.29, 0.24), (-0.32, 0.24), (-0.35, 0.27), (-0.38, 0.30), (-0.41, 0.33),
         (-0.45, 0.36), (-0.48, 0.33), (0.56, 0.40), (0.60, 0.33), (0.63, 0.43), (0.66, 0.44), (0.68, 0.46),
         (0.69, 0.36), (0.71, 0.30), (0.66, 0.30), (0.63, 0.24), (0.64, 0.18), (0.69, 0.21), (0.74, 0.21),
         (0.75, 0.11), (0.80, 0.05), (0.81, 0.02), (0.83, -0.11), (0.79, -0.20), (0.78, -0.26), (0.72, -0.14),
         (0.69, -0.26), (0.66, -0.30), (0.61, -0.33), (0.60, -0.39), (0.56, -0.42), (0.66, -0.45), (0.68, -0.58),
         (0.64, -0.58), (0.61, -0.52), (0.53, -0.58), (0.50, -0.64), (0.47, -0.67), (0.44, -0.58), (0.45, -0.61),
         (0.42, -0.64), (0.41, -0.67), (0.38, -0.74), (0.34, -0.77), (0.30, -0.86), (0.25, -0.80), (0.22, -0.77),
         (0.19, -0.86), (0.14, -0.83), (0.09, -0.86), (0.06, -0.85), (0.03, -0.77), (0.01, -0.86), (-0.03, -0.80),
         (-0.07, -0.77), (-0.10, -0.67), (-0.13, -0.83), (-0.18, -0.80), (-0.21, -0.86), (-0.26, -0.89),
         (-0.27, -0.77), (-0.29, -0.83), (-0.32, -0.81), (-0.37, -0.83), (-0.41, -0.74), (-0.45, -0.85),
         (-0.48, -0.77), (-0.51, -0.67), (-0.54, -0.61), (-0.57, -0.67), (-0.62, -0.72), (-0.67, -0.70),
         (-0.71, -0.58), (-0.18, -0.96),
         (-0.27, 0.14), (-0.24, 0.11), (-0.22, 0.08), (-0.19, 0.05), (-0.16, 0.18), (-0.13, 0.11), (-0.10, 0.05),
         (-0.07, -0.08), (-0.03, -0.14), (0.0, -0.20), (0.06, -0.20), (0.09, -0.14), (0.12, -0.11), (0.15, -0.17),
         (0.19, -0.23), (0.22, -0.14), (0.25, -0.08), (0.28, -0.01), (0.31, 0.05), (0.34, 0.11), (0.36, -0.01),
         (0.38, -0.08), (0.41, -0.14), (0.42, -0.04), (0.42, -0.26), (0.38, -0.30), (0.33, -0.33), (0.28, -0.39),
         (0.23, -0.42), (0.19, -0.45), (0.14, -0.45), (0.09, -0.42), (0.04, -0.36), (0.0, -0.42), (-0.05, -0.45),
         (-0.10, -0.42), (-0.15, -0.45), (-0.19, -0.42), (-0.24, -0.39), (-0.29, -0.36), (-0.33, -0.30),
         (-0.38, -0.33), (-0.41, -0.23), (-0.45, -0.20), (-0.48, -0.17), (-0.51, -0.20), (-0.54, -0.14),
         (-0.54, -0.01), (-0.51, 0.05), (-0.48, 0.11), (-0.41, 0.05), (-0.38, -0.08), (-0.35, -0.14),
         (-0.32, -0.20), (-0.29, -0.14), (-0.26, -0.11), (-0.22, -0.17), (-0.19, -0.11), (-0.16, -0.04),
         (-0.13, -0.11), (-0.10, -0.14), (-0.32, 0.05), (-0.29, -0.01), (-0.26, 0.02), (0.06, 0.30), (0.14, 0.27),
         (0.19, 0.24), (0.23, 0.18), (0.30, 0.18), (0.34, 0.24), (0.41, 0.15), (0.45, 0.11), (0.47, -0.01),
         (0.49, -0.14), (0.50, -0.20), (0.52, -0.30), (0.47, -0.39), (0.44, -0.45), (0.39, -0.48), (0.34, -0.52),
         (0.30, -0.58), (0.25, -0.55), (0.20, -0.58), (0.15, -0.64), (0.11, -0.58), (0.06, -0.55), (0.01, -0.64),
         (-0.03, -0.58), (-0.08, -0.55), (-0.13, -0.58), (-0.18, -0.52), (-0.22, -0.52), (-0.26, -0.58),
         (-0.30, -0.52), (-0.35, -0.45), (-0.40, -0.45), (-0.43, -0.42), (-0.46, -0.39), (-0.49, -0.42),
         (-0.52, -0.33),
         (0.0, 0.05), (0.01, 0.02), (0.03, 0.035), (0.044, 0.05), (0.06, 0.025), (0.076, 0.003), (0.092, -0.013),
         (0.107, -0.044), (0.092, -0.075), (0.076, -0.107), (0.06, -0.138), (0.044, -0.123), (0.028, -0.107),
         (0.013, -0.075), (-0.003, -0.044), (-0.019, -0.013), (-0.011, 0.019), (0.005, -0.013), (0.021, -0.044),
         (0.036, -0.06), (0.052, -0.044), (0.068, -0.028), (0.084, 0.019), (0.099, 0.035), (0.115, 0.003),
         (0.123, -0.075), (0.107, -0.123), (0.084, -0.17), (0.052, -0.186), (0.021, -0.17), (-0.003, -0.138),
         (-0.027, -0.091), (-0.035, -0.044), (-0.019, 0.05), (0.021, 0.082), (0.052, 0.097), (0.076, 0.082),
         (0.131, -0.028), (0.036, 0.003), (0.052, -0.091), (0.068, -0.075), (0.028, -0.028), (0.044, -0.013),
         (0.013, -0.138), (0.06, -0.06), (0.084, -0.06), (0.005, -0.091), (0.036, -0.154), (0.092, -0.201),
         (0.147, -0.138), (-0.043, -0.138), (0.07, 0.06), (0.11, -0.1), (0.02, -0.2), (0.15, 0.02)]

HS_G = [(0.0, 1.0), (0.05, 0.955), (0.1, 0.905), (0.14, 0.86), (0.165, 0.82), (0.176, 0.78), (0.172, 0.74),
        (0.155, 0.695), (0.13, 0.64), (0.11, 0.59), (0.095, 0.54), (0.091, 0.5), (0.094, 0.46), (0.105, 0.41),
        (0.13, 0.37), (0.16, 0.33), (0.177, 0.28), (0.181, 0.24), (0.176, 0.2), (0.165, 0.17), (0.12, 0.12),
        (0.08, 0.075), (0.04, 0.03), (0.0, 0.0)]
KKLZ_G = [(0.0, 1.0), (0.1, 0.9), (0.2, 0.8), (0.235, 0.76), (0.22, 0.72), (0.1, 0.6), (0.01, 0.51),
          (0.01, 0.49), (0.1, 0.4), (0.2, 0.3), (0.24, 0.26), (0.23, 0.22), (0.1, 0.09), (0.0, 0.0)]
PTS_G = [(0.0, 1.0), (0.008, 0.995), (0.015, 0.99), (0.02, 0.975), (0.028, 0.97), (0.03, 0.958), (0.038, 0.955),
         (0.045, 0.96), (0.05, 0.945), (0.055, 0.95), (0.06, 0.935), (0.068, 0.93), (0.075, 0.925), (0.08, 0.915),
         (0.088, 0.91), (0.095, 0.9), (0.1, 0.905), (0.108, 0.89), (0.112, 0.9), (0.118, 0.88), (0.125, 0.875),
         (0.13, 0.87), (0.138, 0.865), (0.145, 0.85), (0.15, 0.85), (0.158, 0.84), (0.165, 0.835), (0.172, 0.825),
         (0.18, 0.82), (0.185, 0.81), (0.19, 0.81), (0.198, 0.8), (0.205, 0.795), (0.21, 0.79), (0.215, 0.785),
         (0.222, 0.775), (0.228, 0.775), (0.232, 0.765), (0.238, 0.765), (0.245, 0.755), (0.25, 0.75),
         (0.255, 0.76), (0.02, 0.955), (0.035, 0.945), (0.108, 0.86), (0.14, 0.83), (0.13, 0.88), (0.2, 0.81),
         (0.245, 0.74), (0.24, 0.735), (0.232, 0.725), (0.225, 0.72), (0.218, 0.715), (0.21, 0.705), (0.2, 0.7),
         (0.195, 0.695), (0.185, 0.685), (0.178, 0.675), (0.17, 0.67), (0.162, 0.66), (0.155, 0.655),
         (0.148, 0.645), (0.14, 0.64), (0.132, 0.635), (0.125, 0.625), (0.118, 0.615), (0.11, 0.61), (0.1, 0.6),
         (0.095, 0.595), (0.088, 0.585), (0.08, 0.58), (0.072, 0.57), (0.065, 0.565), (0.058, 0.56), (0.05, 0.55),
         (0.042, 0.54), (0.035, 0.535), (0.028, 0.525), (0.02, 0.52), (0.012, 0.515), (0.005, 0.505), (0.0, 0.5),
         (0.15, 0.63), (0.2, 0.69), (0.13, 0.645), (0.045, 0.53),
         (0.005, 0.495), (0.01, 0.485), (0.02, 0.48), (0.025, 0.47), (0.035, 0.465), (0.042, 0.455), (0.05, 0.45),
         (0.058, 0.44), (0.065, 0.435), (0.072, 0.425), (0.08, 0.42), (0.088, 0.41), (0.095, 0.405),
         (0.102, 0.395), (0.11, 0.39), (0.118, 0.38), (0.125, 0.375), (0.132, 0.365), (0.14, 0.36), (0.148, 0.35),
         (0.155, 0.345), (0.162, 0.335), (0.17, 0.33), (0.178, 0.32), (0.185, 0.315), (0.192, 0.31), (0.2, 0.3),
         (0.208, 0.29), (0.215, 0.285), (0.222, 0.275), (0.23, 0.27), (0.238, 0.26), (0.245, 0.255), (0.25, 0.25),
         (0.248, 0.245), (0.015, 0.455), (0.09, 0.38), (0.23, 0.285), (0.24, 0.27),
         (0.245, 0.245), (0.24, 0.235), (0.232, 0.23), (0.225, 0.22), (0.218, 0.215), (0.21, 0.21), (0.2, 0.205),
         (0.195, 0.19), (0.188, 0.185), (0.18, 0.18), (0.172, 0.17), (0.165, 0.165), (0.158, 0.155), (0.15, 0.15),
         (0.142, 0.14), (0.135, 0.135), (0.128, 0.125), (0.12, 0.12), (0.112, 0.11), (0.105, 0.105),
         (0.098, 0.095), (0.09, 0.09), (0.082, 0.08), (0.075, 0.075), (0.068, 0.065), (0.06, 0.06), (0.052, 0.05),
         (0.045, 0.045), (0.038, 0.035), (0.03, 0.03), (0.022, 0.02), (0.015, 0.015), (0.008, 0.005), (0.0, 0.0),
         (-0.008, 0.0), (-0.013, 0.0), (0.12, 0.08), (0.058, 0.04), (0.025, 0.01), (0.07, 0.05), (0.1, 0.09),
         (0.135, 0.145)]
PTS_G_MORE = [(0.004, 0.998), (0.012, 0.985), (0.018, 0.985), (0.025, 0.978), (0.033, 0.965), (0.042, 0.962),
              (0.048, 0.952), (0.058, 0.94), (0.065, 0.94), (0.072, 0.93), (0.078, 0.92), (0.085, 0.915),
              (0.092, 0.91), (0.098, 0.898), (0.105, 0.893), (0.115, 0.885), (0.122, 0.878), (0.128, 0.87),
              (0.135, 0.866), (0.142, 0.855), (0.148, 0.855), (0.155, 0.843), (0.162, 0.84), (0.168, 0.83),
              (0.175, 0.825), (0.182, 0.815), (0.188, 0.812), (0.195, 0.805), (0.202, 0.797), (0.208, 0.79),
              (0.218, 0.78), (0.225, 0.775), (0.235, 0.765), (0.242, 0.76), (0.248, 0.75), (0.252, 0.755),
              (0.242, 0.74), (0.236, 0.735), (0.228, 0.725), (0.214, 0.712), (0.205, 0.705), (0.19, 0.69),
              (0.182, 0.68), (0.166, 0.665), (0.158, 0.66), (0.144, 0.642), (0.136, 0.638), (0.122, 0.62),
              (0.114, 0.615), (0.105, 0.602), (0.092, 0.592), (0.084, 0.585), (0.068, 0.568), (0.062, 0.56),
              (0.054, 0.555), (0.046, 0.545), (0.038, 0.54), (0.024, 0.525), (0.016, 0.518), (0.008, 0.51),
              (0.003, 0.502), (0.008, 0.49), (0.015, 0.485), (0.03, 0.47), (0.038, 0.46), (0.046, 0.455),
              (0.054, 0.445), (0.062, 0.44), (0.076, 0.425), (0.084, 0.415), (0.092, 0.41), (0.106, 0.395),
              (0.114, 0.385), (0.122, 0.38), (0.136, 0.365), (0.144, 0.355), (0.152, 0.35), (0.166, 0.335),
              (0.174, 0.325), (0.182, 0.32), (0.196, 0.305), (0.204, 0.298), (0.212, 0.29), (0.226, 0.275),
              (0.234, 0.265), (0.242, 0.258), (0.242, 0.24), (0.236, 0.235), (0.228, 0.225), (0.214, 0.212),
              (0.205, 0.205), (0.192, 0.19), (0.184, 0.182), (0.176, 0.175), (0.162, 0.16), (0.154, 0.152),
              (0.146, 0.145), (0.132, 0.13), (0.124, 0.122), (0.116, 0.115), (0.102, 0.1), (0.094, 0.092),
              (0.086, 0.085), (0.072, 0.07), (0.064, 0.062), (0.056, 0.055), (0.042, 0.04), (0.034, 0.032),
              (0.026, 0.025), (0.012, 0.01), (0.004, 0.003)]

HS_H = [(0.148, 0.876), (0.164, 0.825), (0.169, 0.774), (0.164, 0.724), (0.148, 0.656), (0.127, 0.597),
        (0.107, 0.537), (0.1, 0.478), (0.107, 0.419), (0.127, 0.368), (0.156, 0.317), (0.173, 0.266),
        (0.175, 0.215), (0.166, 0.181)]
KKLZ_H = [(0.01, 1.02), (0.08, 0.96), (0.15, 0.88), (0.2, 0.81), (0.24, 0.76), (0.22, 0.71), (0.15, 0.64),
          (0.08, 0.58), (0.03, 0.53), (0.02, 0.5), (0.05, 0.46), (0.12, 0.39), (0.18, 0.33), (0.23, 0.28),
          (0.24, 0.25), (0.2, 0.2), (0.14, 0.14), (0.06, 0.06), (0.0, 0.0), (-0.035, -0.03)]
PTS_H = [(0.001, 1.088), (0.003, 1.076), (0.02, 1.06), (0.026, 1.054), (0.032, 1.046), (0.028, 1.068),
         (0.04, 1.025), (0.049, 1.015), (0.059, 1.003), (0.067, 1.068), (0.069, 0.995), (0.074, 0.981),
         (0.082, 0.975), (0.09, 0.958), (0.092, 0.91), (0.098, 0.944), (0.107, 0.935), (0.115, 0.927),
         (0.123, 0.983), (0.125, 0.91), (0.131, 0.893), (0.136, 0.876), (0.15, 0.995), (0.152, 0.893),
         (0.169, 0.958), (0.167, 0.901), (0.184, 1.002), (0.185, 0.897), (0.21, 0.893), (-0.048, 1.041),
         (-0.044, 0.995), (-0.034, 0.964), (-0.015, 0.969), (-0.005, 0.958), (0.01, 0.952), (0.016, 0.964),
         (0.028, 0.947), (0.04, 0.927), (0.055, 0.91), (0.069, 0.896), (0.078, 0.893), (0.024, 0.859),
         (0.02, 0.834), (0.055, 0.842), (0.1, 0.842), (0.107, 0.791), (0.03, 0.715),
         (0.222, 0.859), (0.235, 0.825), (0.243, 0.808), (0.264, 0.876), (0.272, 0.876), (0.27, 0.817),
         (0.276, 0.8), (0.297, 0.825), (0.309, 0.851), (0.306, 0.791), (0.297, 0.8), (0.286, 0.749),
         (0.299, 0.774), (0.198, 0.842), (0.202, 0.805), (0.189, 0.783), (0.183, 0.766), (0.177, 0.741),
         (0.185, 0.707), (0.193, 0.707), (0.21, 0.732), (0.226, 0.724), (0.243, 0.707), (0.247, 0.724),
         (0.264, 0.69), (0.267, 0.673), (0.243, 0.673), (0.222, 0.63), (0.231, 0.613), (0.198, 0.647),
         (0.181, 0.63), (0.173, 0.63), (0.148, 0.618), (0.14, 0.642), (0.123, 0.715), (0.14, 0.757),
         (0.156, 0.766), (0.16, 0.732), (0.295, 0.63), (0.301, 0.605), (0.255, 0.774), (0.247, 0.758),
         (0.239, 0.766), (0.251, 0.69), (0.239, 0.673),
         (-0.077, 0.597), (-0.072, 0.512), (-0.066, 0.436), (-0.064, 0.58), (-0.051, 0.554), (-0.05, 0.495),
         (-0.043, 0.461), (-0.019, 0.486), (-0.015, 0.537), (-0.012, 0.571), (-0.009, 0.486), (-0.005, 0.452),
         (-0.003, 0.376), (0.007, 0.478), (0.012, 0.554), (0.018, 0.588), (0.02, 0.452), (0.024, 0.529),
         (0.028, 0.554), (0.032, 0.571), (0.034, 0.52), (0.038, 0.605), (0.04, 0.537), (0.043, 0.503),
         (0.045, 0.469), (0.049, 0.622), (0.053, 0.554), (0.057, 0.512), (0.061, 0.571), (0.069, 0.588),
         (0.074, 0.52), (0.082, 0.452), (0.078, 0.673), (0.086, 0.605), (0.09, 0.656), (0.094, 0.673),
         (0.098, 0.605), (0.102, 0.639), (0.111, 0.656), (0.123, 0.622), (0.123, 0.554), (0.131, 0.52),
         (0.136, 0.563), (0.14, 0.486), (0.148, 0.546), (0.152, 0.512), (0.156, 0.588), (0.148, 0.503),
         (0.181, 0.469), (0.198, 0.478), (0.028, 0.419), (0.04, 0.385), (0.049, 0.402), (0.057, 0.368),
         (0.065, 0.419), (0.074, 0.402), (0.082, 0.385), (0.09, 0.368), (0.098, 0.385), (0.111, 0.359),
         (0.119, 0.368), (0.032, 0.359), (0.04, 0.342), (0.014, 0.402), (0.082, 0.329), (0.09, 0.351),
         (0.127, 0.317), (0.14, 0.419), (0.156, 0.368), (0.165, 0.385), (0.169, 0.368), (0.177, 0.351),
         (0.202, 0.317), (0.214, 0.385), (0.219, 0.419), (0.235, 0.388),
         (0.243, 0.368), (0.252, 0.325), (0.26, 0.342), (0.268, 0.334), (0.28, 0.342), (0.272, 0.303),
         (0.297, 0.291), (0.297, 0.266), (0.311, 0.27), (0.328, 0.347), (0.373, 0.291), (0.344, 0.205),
         (0.243, 0.275), (0.252, 0.266), (0.26, 0.249), (0.264, 0.241), (0.272, 0.241), (0.28, 0.207),
         (0.286, 0.207), (0.299, 0.198), (0.27, 0.164), (0.26, 0.164), (0.245, 0.181), (0.245, 0.156),
         (0.235, 0.232), (0.233, 0.215), (0.222, 0.224), (0.214, 0.241), (0.21, 0.258), (0.202, 0.232),
         (0.193, 0.215), (0.185, 0.232), (0.181, 0.275), (0.173, 0.3), (0.16, 0.266), (0.148, 0.266),
         (0.14, 0.232), (0.131, 0.215), (0.131, 0.275), (0.123, 0.249), (0.115, 0.215), (0.102, 0.232),
         (0.088, 0.241), (0.249, 0.105), (0.305, 0.105),
         (0.193, 0.181), (0.181, 0.164), (0.169, 0.156), (0.156, 0.181), (0.148, 0.164), (0.14, 0.147),
         (0.131, 0.13), (0.123, 0.114), (0.115, 0.105), (0.111, 0.097), (0.107, 0.088), (0.098, 0.083),
         (0.09, 0.071), (0.082, 0.063), (0.074, 0.054), (0.065, 0.063), (0.057, 0.046), (0.049, 0.029),
         (0.04, 0.02), (0.032, 0.012), (0.024, 0.003), (0.016, -0.005), (0.012, 0.046), (0.003, 0.13),
         (0.082, 0.156), (0.09, 0.139), (0.1, 0.147), (0.032, 0.088), (0.036, 0.139), (0.04, 0.164),
         (0.028, 0.093), (0.049, 0.063), (0.074, 0.097), (0.102, 0.046), (0.125, 0.046), (0.08, -0.014),
         (0.098, -0.047), (0.102, -0.019), (0.198, 0.088), (0.173, 0.097), (-0.013, 0.046), (-0.026, 0.029),
         (-0.013, -0.005), (-0.03, -0.031), (-0.038, -0.056), (-0.052, -0.025), (-0.067, -0.014),
         (-0.067, -0.047), (-0.064, 0.012), (-0.04, -0.005), (-0.015, -0.081), (-0.005, -0.036),
         (-0.017, -0.047), (0.012, -0.014), (0.049, -0.022), (0.053, 0.041), (0.057, 0.063), (0.003, -0.005)]

# per-panel curve assignments
TRUE_CURVES = [CIRCLE, CIRCLE, SMALL_SPIRAL, SMALL_SPIRAL, BIG_SPIRAL, BIG_SPIRAL, ZIGZAG, ZIGZAG]
POINT_SETS = [PTS_A, PTS_B, PTS_C + PTS_C_MORE, PTS_D, PTS_E + PTS_E_MORE, PTS_F, PTS_G + PTS_G_MORE, PTS_H]
HS_THIN = [HS_A, HS_B, HS_C, None, None, None, HS_G, None]
HS_THICK = [None, None, None, HS_D, HS_E, HS_F, None, HS_H]
KKLZ_CURVES = [KKLZ_A, KKLZ_B, None, None, KKLZ_E, KKLZ_F, KKLZ_G, KKLZ_H]

# ======================= LAYOUT GEOMETRY (pixels) =======================
COL_LEFT = [47.4, 621.5]
BOX_W = 453.3
ROW_TOP = [55.0, 469.5, 883.5, 1297.5]
BOX_H = 234.3
TITLE_GAP = 38.5

DASHED = "10px,7px"
DASHDOT = "3px,6px,10px,6px"
LINE_W = 1.3


def unzip(pts):
    return [p[0] for p in pts], [p[1] for p in pts]


def fmt(v):
    s = f"{v:.1f}"
    return s.replace("-", "\u2212")


fig = go.Figure()
layout = dict(template="none", width=W, height=H, margin=dict(l=0, r=0, t=0, b=0, pad=0), autosize=False,
              paper_bgcolor="white", plot_bgcolor="white", showlegend=True,
              font=dict(family=FONT, color="black"))
annotations = []

for i in range(8):
    n = i + 1
    xref = "x" if n == 1 else f"x{n}"
    yref = "y" if n == 1 else f"y{n}"
    col, row = i % 2, i // 2
    x0 = COL_LEFT[col]
    y0 = ROW_TOP[row]
    dom_x = [x0 / W, (x0 + BOX_W) / W]
    dom_y = [1 - (y0 + BOX_H) / H, 1 - y0 / H]

    first = (i == 0)
    px, py = unzip(POINT_SETS[i])
    fig.add_trace(go.Scatter(x=px, y=py, mode="markers", xaxis=xref, yaxis=yref, showlegend=False,
                             marker=dict(symbol="square", size=3.2, color="black", line=dict(width=0)),
                             hoverinfo="skip"))
    tx, ty = unzip(TRUE_CURVES[i])
    shape = "linear" if TRUE_CURVES[i] is ZIGZAG else "spline"
    fig.add_trace(go.Scatter(x=tx, y=ty, mode="lines", xaxis=xref, yaxis=yref,
                             name=LEGEND_NAMES[0], showlegend=first, legendrank=1,
                             line=dict(color="black", width=LINE_W, shape=shape, smoothing=1.0)))
    if HS_THIN[i] is not None:
        hx, hy = unzip(HS_THIN[i])
        fig.add_trace(go.Scatter(x=hx, y=hy, mode="lines", xaxis=xref, yaxis=yref,
                                 name=LEGEND_NAMES[1], showlegend=first, legendrank=2,
                                 line=dict(color="black", width=LINE_W, dash=DASHDOT, shape="spline",
                                           smoothing=0.8)))
    if KKLZ_CURVES[i] is not None:
        kx, ky = unzip(KKLZ_CURVES[i])
        fig.add_trace(go.Scatter(x=kx, y=ky, mode="lines", xaxis=xref, yaxis=yref,
                                 name=LEGEND_NAMES[2], showlegend=first, legendrank=3,
                                 line=dict(color="black", width=LINE_W, dash=DASHED,
                                           shape="spline" if i < 2 else "linear", smoothing=0.6)))
    if HS_THICK[i] is not None:
        hx, hy = unzip(HS_THICK[i])
        fig.add_trace(go.Scatter(x=hx, y=hy, mode="lines", xaxis=xref, yaxis=yref, showlegend=False,
                                 connectgaps=False,
                                 line=dict(color="black", width=4.5 if i == 7 else 3.6, shape="spline",
                                           smoothing=1.0)))

    axis_common = dict(showline=True, mirror=True, linecolor="black", linewidth=LINE_W,
                       ticks="outside", ticklen=10, tickwidth=LINE_W, tickcolor="black",
                       showgrid=False, zeroline=False, fixedrange=True, automargin=False,
                       tickfont=dict(size=16, family=FONT, color="black"))
    xt = X_TICKS[i]
    yt = Y_TICKS[i]
    layout["xaxis" if n == 1 else f"xaxis{n}"] = dict(
        axis_common, domain=dom_x, range=list(X_RANGES[i]), anchor=yref,
        tickmode="array", tickvals=xt, ticktext=[fmt(v) for v in xt], ticklabelstandoff=8)
    layout["yaxis" if n == 1 else f"yaxis{n}"] = dict(
        axis_common, domain=dom_y, range=list(Y_RANGES[i]), anchor=xref,
        tickmode="array", tickvals=yt,
        ticktext=["" if v in Y_UNLABELLED[i] else fmt(v) for v in yt],
        tickangle=-90, ticklabelstandoff=4)

    annotations.append(dict(text=f"<b>{TITLES[i]}</b>", xref="paper", yref="paper",
                            x=(x0 + BOX_W / 2) / W, y=1 - (y0 - TITLE_GAP) / H,
                            xanchor="center", yanchor="middle", showarrow=False,
                            font=dict(size=19.5, family=FONT, color="black")))

layout["annotations"] = annotations
layout["legend"] = dict(x=230.9 / W, y=1 - 141.0 / H, xanchor="left", yanchor="top",
                        bgcolor="white", bordercolor="black", borderwidth=1,
                        font=dict(size=14, family=FONT, color="black"),
                        tracegroupgap=0, itemwidth=43, traceorder="normal")
fig.update_layout(**layout)
fig.write_html("out.html")
